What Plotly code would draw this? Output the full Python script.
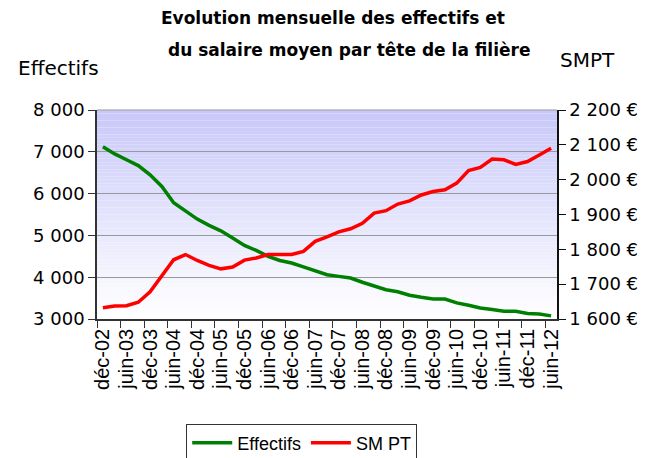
import plotly.graph_objects as go

# quarterly points from déc-02 to juin-12 (39 points), labelled every 6 months
periods = list(range(39))

tick_labels = ["déc-02", "juin-03", "déc-03", "juin-04", "déc-04", "juin-05",
               "déc-05", "juin-06", "déc-06", "juin-07", "déc-07", "juin-08",
               "déc-08", "juin-09", "déc-09", "juin-10", "déc-10", "juin-11",
               "déc-11", "juin-12"]

effectifs = [7120, 6950, 6810, 6670, 6450, 6170, 5780, 5590, 5390, 5240,
             5110, 4940, 4760, 4640, 4500, 4400, 4340, 4245, 4155, 4060,
             4020, 3980, 3880, 3780, 3700, 3650, 3570, 3520, 3480, 3478,
             3385, 3330, 3265, 3225, 3185, 3184, 3130, 3120, 3075]

smpt = [1632, 1637, 1638, 1648, 1678, 1725, 1770, 1785, 1768, 1754,
        1744, 1749, 1769, 1775, 1785, 1785, 1785, 1794, 1823, 1836,
        1850, 1859, 1875, 1904, 1911, 1930, 1939, 1956, 1966, 1971,
        1990, 2026, 2035, 2059, 2057, 2044, 2052, 2071, 2090]

fig = go.Figure()
fig.add_trace(go.Scatter(x=periods, y=effectifs, mode="lines", name="Effectifs",
                         line=dict(color="#008000", width=3.5)))
fig.add_trace(go.Scatter(x=periods, y=smpt, mode="lines", name="SM PT", yaxis="y2",
                         line=dict(color="#ff0000", width=3.5)))

# gradient background (bands)
n = 60
top = (200, 200, 250)
for i in range(n):
    t = i / (n - 1)
    c = tuple(int(round(top[j] + (255 - top[j]) * t)) for j in range(3))
    fig.add_shape(type="rect", xref="x domain", yref="y domain",
                  x0=0, x1=1, y0=1 - (i + 1) / n, y1=1 - i / n,
                  fillcolor=f"rgb{c}", line_width=0, layer="below")

tick_font = dict(family="DejaVu Sans", size=18, color="black")

# the page adds an 8px body margin, so margins are shifted by 8px
fig.update_layout(
    width=652, height=458,
    margin=dict(l=89, r=103, t=102, b=147, autoexpand=False),
    paper_bgcolor="white", plot_bgcolor="white",
    separators=", ",
    showlegend=True,
    legend=dict(orientation="h", x=0.445, xanchor="center", y=-0.5, yanchor="top",
                bordercolor="#333333", borderwidth=1,
                font=dict(family="Liberation Sans", size=18, color="black"),
                itemwidth=40),
    xaxis=dict(range=[-0.5, 38.5], tickvals=list(range(0, 39, 2)), ticktext=tick_labels,
               tickangle=-90, ticks="", showgrid=False, zeroline=False, automargin=False,
               showline=True, linecolor="#333333", linewidth=1.5,
               tickfont=dict(family="Liberation Sans", size=20, color="black"),
               minor=dict(tick0=-0.5, dtick=2, ticks="outside", ticklen=7,
                          tickcolor="#333333", showgrid=False)),
    yaxis=dict(range=[3000, 8000], dtick=1000, tickformat=",d", automargin=False,
               showgrid=True, gridcolor="#999999", gridwidth=1, zeroline=False,
               showline=True, linecolor="#333333", linewidth=1.5,
               ticks="outside", ticklen=7, tickcolor="#333333",
               tickfont=tick_font),
    yaxis2=dict(range=[1600, 2200], dtick=100, tickformat=",d", ticksuffix=" €",
                overlaying="y", side="right", showgrid=False, zeroline=False,
                automargin=False,
                showline=True, linecolor="#111111", linewidth=1.5,
                ticks="outside", ticklen=7, tickcolor="#111111",
                tickfont=tick_font),
)

fig.add_shape(type="line", xref="x domain", yref="y domain", x0=0, x1=1, y0=1, y1=1,
              line=dict(color="#999999", width=1))


def px_note(text, x, y, font):
    # x, y in screen pixels; plot area spans 97..557 x 110..319 on screen
    fig.add_annotation(text=text, xref="paper", yref="paper",
                       x=(x - 97) / 460, y=(319 - y) / 209,
                       xanchor="center", yanchor="middle", showarrow=False, font=font)


title_font = dict(family="DejaVu Sans", size=17, color="black")
px_note("<b>Evolution mensuelle des effectifs et</b>", 333, 18, title_font)
px_note("<b>du salaire moyen par tête de la filière</b>", 349, 50, title_font)
axis_title_font = dict(family="DejaVu Sans", size=20, color="black")
px_note("Effectifs", 58, 68, axis_title_font)
px_note("SMPT", 587, 60, axis_title_font)

fig.write_html("out.html")
